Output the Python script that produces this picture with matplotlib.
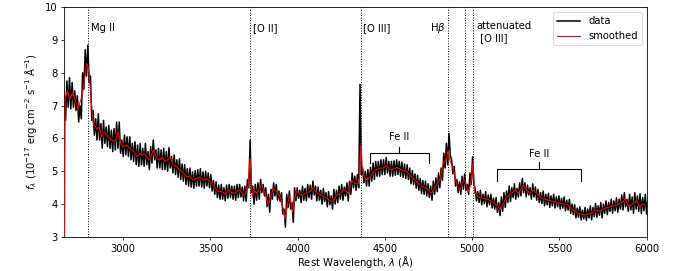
import numpy as np
import matplotlib
matplotlib.use("Agg")
import matplotlib.pyplot as plt

plt.rcParams['font.family'] = ['DejaVu Sans']
FS = 7.2

# ---- data ----
# observed (noisy) spectrum: local highs on one 15 A grid, local lows on a grid shifted by 7.5 A
data_hi_start, data_lo_start, data_step = 2662, 2669.5, 15
data_hi = [
    7.3, 7.75, 7.85, 7.7, 7.45, 7.3, 7.0, 8.0, 8.7, 8.84,
    7.9, 6.85, 6.6, 6.75, 6.45, 6.55, 6.35, 6.4, 6.25, 6.3,
    6.5, 6.5, 5.95, 6.1, 6.05, 6.05, 5.85, 5.9, 5.8, 5.85,
    5.7, 5.85, 5.6, 5.75, 5.95, 5.65, 5.7, 5.65, 5.7, 5.6,
    5.72, 5.45, 5.5, 5.35, 5.38, 5.22, 5.2, 5.08, 5.1, 4.98,
    5.02, 5.05, 5.08, 4.98, 5.0, 4.95, 4.9, 4.72, 4.68, 4.58,
    4.6, 4.5, 4.58, 4.6, 4.55, 4.55, 4.6, 4.6, 4.52, 4.55,
    4.75, 5.95, 4.55, 4.6, 4.65, 4.75, 4.6, 4.5, 4.3, 4.45,
    4.65, 4.6, 4.4, 4.35, 3.85, 4.3, 4.4, 4.05, 4.5, 4.5,
    4.42, 4.55, 4.48, 4.6, 4.58, 4.7, 4.55, 4.52, 4.42, 4.48,
    4.35, 4.38, 4.25, 4.45, 4.42, 4.55, 4.6, 4.52, 4.65, 4.7,
    4.95, 4.85, 4.9, 7.65, 5.1, 5.0, 5.05, 5.12, 5.25, 5.3,
    5.3, 5.35, 5.35, 5.42, 5.3, 5.3, 5.32, 5.35, 5.3, 5.28,
    5.22, 5.2, 5.1, 5.02, 4.92, 4.88, 4.78, 4.72, 4.7, 4.62,
    4.55, 4.7, 4.8, 4.95, 5.1, 5.55, 5.85, 6.15, 5.35, 5.15,
    4.75, 4.68, 4.85, 4.92, 4.6, 4.95, 5.44, 4.48, 4.38, 4.42,
    4.3, 4.38, 4.28, 4.3, 4.18, 4.2, 4.05, 4.22, 4.35, 4.4,
    4.55, 4.5, 4.62, 4.48, 4.65, 4.78, 4.65, 4.58, 4.5, 4.62,
    4.52, 4.45, 4.35, 4.4, 4.3, 4.33, 4.25, 4.3, 4.22, 4.25,
    4.18, 4.22, 4.12, 4.15, 4.0, 3.98, 3.88, 3.92, 3.82, 3.9,
    3.85, 3.95, 3.9, 4.02, 3.95, 4.05, 4.0, 4.1, 4.05, 4.15,
    4.1, 4.2, 4.15, 4.28, 4.35, 4.15, 4.3, 4.22, 4.35, 4.25,
    4.32, 4.2, 4.3, 4.15]
data_lo = [
    6.55, 6.95, 6.9, 6.95, 6.85, 6.5, 6.6, 7.5, 7.9, 7.7,
    6.55, 6.1, 5.95, 5.95, 5.7, 5.85, 5.75, 5.7, 5.6, 5.65,
    5.7, 5.55, 5.45, 5.5, 5.45, 5.35, 5.3, 5.2, 5.15, 5.2,
    5.15, 5.2, 5.05, 5.25, 5.35, 5.1, 5.1, 5.05, 5.05, 5.0,
    5.1, 4.95, 4.9, 4.82, 4.75, 4.7, 4.6, 4.55, 4.52, 4.48,
    4.55, 4.55, 4.52, 4.48, 4.55, 4.5, 4.4, 4.3, 4.2, 4.15,
    4.15, 4.1, 4.18, 4.2, 4.15, 4.12, 4.2, 4.22, 4.1, 4.08,
    4.5, 4.35, 4.0, 4.12, 4.15, 4.35, 4.25, 3.92, 3.75, 4.15,
    4.25, 4.12, 4.08, 3.7, 3.3, 3.9, 3.85, 3.45, 4.1, 4.18,
    4.05, 4.12, 4.1, 4.2, 4.15, 4.28, 4.1, 4.12, 4.0, 4.08,
    3.92, 3.98, 3.85, 4.0, 4.05, 4.15, 4.12, 4.25, 4.1, 4.3,
    4.5, 4.42, 4.5, 4.9, 4.65, 4.55, 4.55, 4.7, 4.75, 4.85,
    4.85, 4.9, 4.9, 4.95, 4.85, 4.85, 4.88, 4.9, 4.85, 4.82,
    4.78, 4.75, 4.62, 4.6, 4.48, 4.42, 4.32, 4.3, 4.25, 4.2,
    4.12, 4.3, 4.38, 4.5, 4.72, 5.1, 5.2, 5.5, 4.92, 4.55,
    4.35, 4.3, 4.45, 4.42, 4.3, 4.6, 4.6, 4.1, 4.05, 3.98,
    4.02, 3.92, 3.98, 3.88, 3.85, 3.75, 3.65, 3.78, 3.9, 4.05,
    4.08, 4.2, 4.15, 4.22, 4.25, 4.35, 4.22, 4.28, 4.15, 4.22,
    4.12, 4.05, 4.02, 3.95, 3.98, 3.9, 3.95, 3.88, 3.92, 3.85,
    3.88, 3.8, 3.82, 3.72, 3.68, 3.58, 3.6, 3.52, 3.55, 3.5,
    3.58, 3.52, 3.62, 3.6, 3.66, 3.58, 3.72, 3.68, 3.78, 3.72,
    3.8, 3.75, 3.85, 3.82, 3.92, 3.78, 3.82, 3.72, 3.85, 3.78,
    3.72, 3.8, 3.7]

smooth_wave = [2662, 2667, 2680, 2695, 2710, 2725, 2741, 2755, 2765, 2780, 2790, 2797, 2805,
               2819, 2828, 2848, 2862, 2876, 2890, 2905, 2925, 2943, 2960, 2971, 2985, 3000,
               3020, 3039, 3060, 3077, 3095, 3106, 3124, 3140, 3153, 3172, 3190, 3210, 3225,
               3239, 3255, 3268, 3287, 3305, 3325, 3345, 3363, 3380, 3401, 3420, 3440, 3460,
               3478, 3495, 3507, 3525, 3545, 3564, 3585, 3602, 3620, 3640, 3655, 3669, 3685,
               3698, 3716, 3727, 3740, 3752, 3765, 3793, 3812, 3831, 3845, 3860, 3875, 3888,
               3907, 3927, 3946, 3955, 3971, 3984, 3994, 4012, 4032, 4050, 4070, 4089, 4108,
               4127, 4145, 4166, 4194, 4210, 4223, 4240, 4261, 4275, 4290, 4309, 4328, 4347,
               4357, 4363, 4370, 4380, 4395, 4414, 4443, 4471, 4490, 4510, 4525, 4538, 4567,
               4596, 4624, 4653, 4682, 4710, 4739, 4768, 4787, 4815, 4834, 4853, 4861, 4872,
               4891, 4910, 4929, 4948, 4958, 4977, 4992, 5004, 5015, 5034, 5063, 5101, 5120,
               5140, 5160, 5178, 5197, 5226, 5245, 5264, 5293, 5312, 5331, 5350, 5369, 5398,
               5436, 5474, 5512, 5550, 5579, 5608, 5646, 5684, 5703, 5732, 5761, 5789, 5828,
               5866, 5876, 5895, 5923, 5943, 5962, 5981, 5995]
smooth_flux = [0.0, 7.2, 7.45, 7.2, 7.4, 7.15, 6.9, 7.15, 7.3, 7.9, 8.28, 8.2, 7.95,
               6.96, 6.46, 6.28, 6.35, 6.05, 6.2, 6.1, 6.0, 5.9, 6.0, 6.2, 5.85, 5.74,
               5.8, 5.7, 5.6, 5.44, 5.55, 5.49, 5.52, 5.4, 5.34, 5.64, 5.4, 5.34, 5.42,
               5.29, 5.35, 5.44, 5.19, 5.15, 5.04, 4.95, 4.83, 4.85, 4.73, 4.78, 4.83, 4.72,
               4.78, 4.7, 4.63, 4.5, 4.38, 4.38, 4.3, 4.43, 4.35, 4.33, 4.4, 4.43, 4.3,
               4.28, 4.53, 5.39, 4.22, 4.4, 4.33, 4.58, 4.35, 3.97, 4.2, 4.48, 4.4, 4.33,
               4.12, 3.55, 4.12, 4.25, 3.75, 4.22, 4.4, 4.3, 4.28, 4.35, 4.38, 4.5, 4.35,
               4.28, 4.25, 4.18, 4.07, 4.15, 4.28, 4.3, 4.43, 4.4, 4.33, 4.73, 4.63, 4.63,
               5.0, 5.8, 5.1, 4.85, 4.73, 4.83, 5.04, 5.09, 5.1, 5.19, 5.05, 5.04, 5.12,
               5.04, 4.99, 4.83, 4.68, 4.53, 4.48, 4.33, 4.53, 4.73, 5.24, 5.39, 5.64, 5.34,
               5.09, 4.63, 4.43, 4.68, 4.73, 4.38, 4.6, 5.24, 4.33, 4.22, 4.18, 4.12, 4.05,
               3.97, 3.85, 4.02, 4.2, 4.33, 4.43, 4.33, 4.58, 4.43, 4.33, 4.43, 4.33, 4.18,
               4.12, 4.07, 4.02, 3.97, 3.82, 3.72, 3.67, 3.72, 3.82, 3.78, 3.87, 3.92, 3.97,
               4.07, 4.18, 3.92, 4.02, 4.1, 3.92, 4.02, 3.95]

line_waves = [2798, 3727, 4363, 4861, 4959, 5007]
label_texts = ["Mg II", "[O II]", "[O III]", r"H$\beta$", "attenuated\n [O III]"]
label_x = [2815, 3745, 4372, 4845, 5025]
label_ha = ["left", "left", "left", "right", "left"]

feii_left = [4415, 5143]
feii_right = [4750, 5621]
feii_bar = [5.56, 5.06]
feii_foot = [5.24, 4.71]
feii_top = [5.75, 5.27]
feii_text_y = [6.04, 5.54]

x_ticks = [3000, 3500, 4000, 4500, 5000, 5500, 6000]
y_ticks = [3, 4, 5, 6, 7, 8, 9, 10]

# merge the two samplings into one wavelength-ordered spectrum
wave_hi = data_hi_start + data_step * np.arange(len(data_hi))
wave_lo = data_lo_start + data_step * np.arange(len(data_lo))
data_wave = np.concatenate([wave_hi, wave_lo])
data_flux = np.concatenate([data_hi, data_lo])
order = np.argsort(data_wave)
data_wave, data_flux = data_wave[order], data_flux[order]

# ---- figure ----
fig = plt.figure(figsize=(6.92, 2.71), dpi=100)
ax = fig.add_axes([0.0929, 0.1255, 0.8416, 0.8485])

ax.plot(data_wave, data_flux, color='black', lw=1.1, label='data', zorder=3)
ax.plot(smooth_wave, smooth_flux, color='red', lw=0.8, label='smoothed', zorder=4)

for lw_ in line_waves:
    ax.axvline(lw_, color='black', ls=':', lw=0.7, zorder=2)

for t, x, ha in zip(label_texts, label_x, label_ha):
    multi = '\n' in t
    ax.text(x, 9.57 if multi else 9.37, t, ha=ha, va='top' if multi else 'center',
            fontsize=FS)

for l, r, b, f, tp, ty in zip(feii_left, feii_right, feii_bar, feii_foot, feii_top, feii_text_y):
    c = (l + r) / 2
    ax.plot([l, l, r, r], [f, b, b, f], color='black', lw=0.8, zorder=5)
    ax.plot([c, c], [b, tp], color='black', lw=0.8, zorder=5)
    ax.text(c, ty, "Fe II", ha='center', va='center', fontsize=FS)

ax.set_xlim(2662, 6000)
ax.set_ylim(3, 10)
ax.set_xticks(x_ticks)
ax.set_yticks(y_ticks)
ax.tick_params(labelsize=FS, width=0.55, length=2.4, pad=2.5)
for s in ax.spines.values():
    s.set_linewidth(0.6)
ax.set_xlabel(r"Rest Wavelength, $\lambda$ ($\mathrm{\AA}$)", fontsize=FS, labelpad=0.5)
ax.set_ylabel(r"$f_\lambda$ ($10^{-17}$ erg cm$^{-2}$ s$^{-1}$ $\mathrm{\AA}^{-1}$)", fontsize=FS, labelpad=4)
leg = ax.legend(loc='upper right', fontsize=FS, handlelength=2.3)
leg.get_frame().set_linewidth(0.6)

fig.savefig("out.png", dpi=100)
